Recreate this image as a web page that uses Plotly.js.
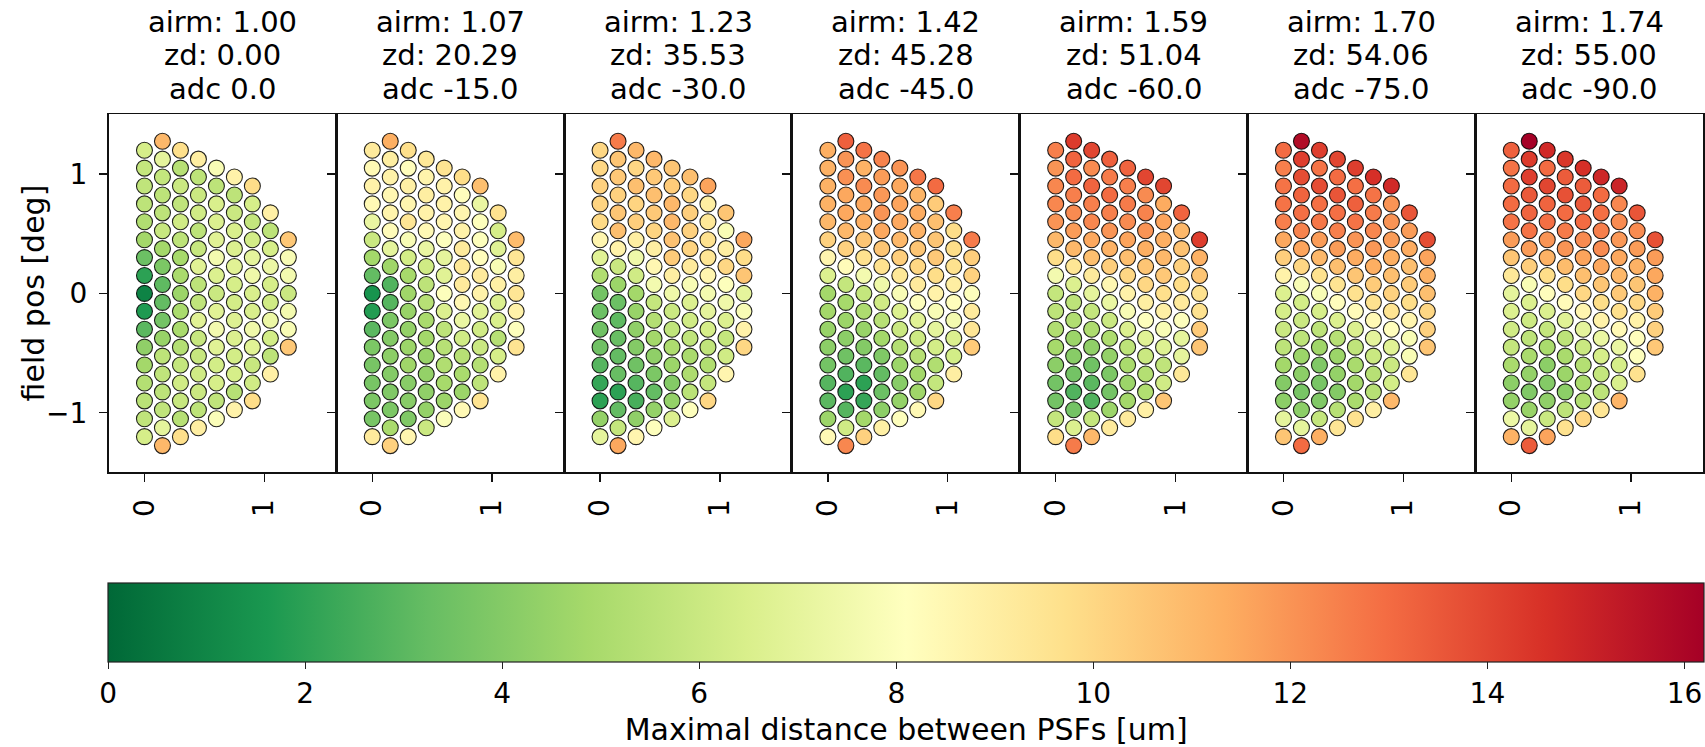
<!DOCTYPE html>
<html>
<head>
<meta charset="utf-8">
<script src="https://cdn.plot.ly/plotly-3.0.1.min.js"></script>
<style>
html,body{margin:0;padding:0;background:#ffffff;}
#chart{width:1705px;height:747px;}
</style>
</head>
<body>
<div id="chart"></div>
<script>
// ---------------- data ----------------
const airmass = ["1.00", "1.07", "1.23", "1.42", "1.59", "1.70", "1.74"];
const zenithDist = ["0.00", "20.29", "35.53", "45.28", "51.04", "54.06", "55.00"];
const adcAngle = ["0.0", "-15.0", "-30.0", "-45.0", "-60.0", "-75.0", "-90.0"];

// field grid: column x position [deg], top y of the column [deg], number of fibres, row step [deg]
const columnX = [0.0, 0.15, 0.30, 0.45, 0.60, 0.75, 0.90, 1.05, 1.20];
const columnTopY = [1.2, 1.275, 1.2, 1.125, 1.05, 0.975, 0.9, 0.675, 0.45];
const columnCount = [17, 18, 17, 16, 15, 14, 13, 10, 7];
const rowStep = 0.15;

// maximal distance between PSFs [um], per column, top to bottom
const maxDistAdc0 = [
  [6.4,5.8,5.7,5.6,5.2,4.8,3.4,2.0,0.9,1.7,3.0,4.3,4.8,5.3,5.5,5.7,6.4],
  [11.0,7.0,5.8,5.6,5.6,5.9,4.8,3.8,3.1,3.2,3.6,4.5,5.6,5.7,5.6,5.7,7.0,11.0],
  [9.7,5.4,6.0,5.7,6.2,5.6,4.9,5.0,4.6,5.0,5.0,5.3,5.8,6.2,5.9,5.4,9.7],
  [9.0,5.6,6.0,6.2,5.6,5.9,6.8,5.6,5.7,6.8,5.9,5.9,6.2,6.0,5.6,9.0],
  [7.8,5.6,6.5,6.6,6.8,7.6,6.6,6.0,6.8,7.6,6.8,6.3,6.4,5.7,7.9],
  [8.8,5.6,6.0,6.5,6.6,6.8,6.4,6.3,6.7,6.6,6.3,6.4,5.4,8.8],
  [9.8,6.4,5.8,6.3,7.0,7.4,6.5,6.5,7.4,6.8,5.9,6.2,9.8],
  [8.9,5.6,6.4,7.3,6.4,6.2,7.3,6.3,5.6,8.9],
  [10.5,7.8,7.6,6.0,7.6,7.8,10.5]
];
const maxDistAdc15 = [
  [9.2,8.4,8.8,8.4,7.2,6.0,4.8,3.2,1.5,1.8,3.0,3.8,3.7,3.7,3.8,3.7,9.2],
  [11.3,9.0,8.8,8.5,8.7,8.3,7.0,4.7,2.8,2.9,3.8,4.0,4.2,4.0,3.9,3.8,5.0,10.2],
  [9.7,8.2,8.9,8.6,9.4,7.8,6.3,4.9,4.7,4.5,4.4,4.6,4.7,4.1,4.1,3.9,8.6],
  [9.3,8.7,9.0,8.8,8.4,7.2,6.2,5.6,5.4,5.0,4.8,4.5,4.4,4.3,4.4,6.0],
  [9.5,8.8,8.8,8.6,8.0,7.0,6.8,8.0,6.6,5.6,5.4,5.2,4.9,4.6,7.9],
  [9.8,8.2,8.6,8.8,9.2,9.3,9.2,8.5,7.2,6.2,5.4,5.0,4.6,8.4],
  [10.8,7.2,8.0,8.0,8.2,9.2,8.8,6.8,6.2,6.0,5.3,5.6,9.5],
  [9.6,6.4,6.8,7.8,8.9,6.6,6.5,5.4,6.4,8.8],
  [10.9,9.4,9.0,9.4,8.8,8.0,9.5]
];
const maxDistAdc30 = [
  [10.0,10.0,10.2,10.1,9.9,8.6,6.8,5.2,3.6,3.4,3.5,3.5,2.9,2.2,2.0,4.4,7.0],
  [12.6,10.6,10.5,10.2,10.6,10.8,8.8,6.0,4.6,3.4,3.1,3.3,3.2,3.3,2.0,3.2,5.8,11.5],
  [11.0,10.0,10.8,10.1,10.3,9.0,7.4,6.2,4.8,4.5,4.3,4.0,3.5,2.9,2.6,4.3,8.6],
  [11.0,10.5,10.8,10.5,10.1,9.0,8.5,7.6,5.8,5.3,4.8,4.3,3.8,3.2,4.4,8.0],
  [10.6,10.4,11.0,11.0,10.7,10.4,9.0,7.4,6.0,5.7,5.1,4.6,4.0,4.4,6.6],
  [10.8,10.0,10.3,10.2,10.1,9.2,7.8,6.6,6.2,5.7,5.0,5.1,5.5,8.0],
  [11.6,9.0,9.3,9.6,9.4,8.6,7.6,7.0,6.4,5.7,5.2,5.8,10.0],
  [10.6,7.8,9.0,10.0,8.0,7.4,6.6,5.8,6.2,8.6],
  [11.5,9.8,10.6,7.0,7.8,8.8,10.0]
];
const maxDistAdc45 = [
  [11.3,11.2,11.2,11.2,11.0,10.2,8.6,6.6,4.8,4.8,4.5,4.2,3.6,2.9,3.0,4.6,8.4],
  [13.3,12.0,12.1,11.5,11.5,11.0,10.2,8.3,5.8,4.9,4.6,4.2,3.5,2.8,2.0,2.9,6.2,12.3],
  [12.8,11.2,12.2,11.5,11.3,10.6,9.6,7.6,5.8,5.1,4.5,4.0,3.0,2.0,2.2,4.8,10.2],
  [12.4,11.8,11.9,12.0,11.5,10.6,9.6,7.4,6.2,5.4,4.8,3.9,3.2,3.4,4.2,8.9],
  [12.0,11.5,11.6,11.5,11.0,10.3,9.3,7.8,6.6,6.0,5.3,4.6,4.1,4.4,8.0],
  [12.7,11.1,11.4,11.2,10.6,10.0,9.2,8.0,6.8,6.1,5.4,4.8,4.7,8.4],
  [13.0,10.4,10.8,10.6,10.5,9.8,8.8,7.8,7.0,6.3,5.2,5.8,10.0],
  [12.5,9.8,9.8,9.6,9.0,8.2,7.6,6.6,6.3,9.0],
  [12.6,10.3,10.2,8.0,9.2,9.4,10.4]
];
const maxDistAdc60 = [
  [12.5,12.0,12.3,12.3,12.0,11.0,9.8,7.6,5.8,5.6,5.2,4.9,4.2,3.6,3.6,5.8,9.8],
  [14.3,13.2,13.0,12.5,12.2,11.8,11.0,9.4,6.6,5.6,5.2,4.6,4.1,3.6,2.8,3.6,6.6,12.6],
  [14.0,12.2,13.2,12.5,12.3,11.5,10.8,9.2,7.0,5.8,5.1,4.3,3.5,3.0,2.8,5.8,11.0],
  [13.3,12.6,13.0,12.5,12.0,11.2,10.3,8.5,7.2,6.0,5.1,4.4,3.8,3.6,4.6,9.2],
  [13.2,12.5,12.6,12.2,11.6,10.8,10.0,8.8,7.8,6.6,5.6,5.0,4.6,4.8,9.2],
  [14.0,12.2,12.4,12.0,11.3,10.6,10.0,9.0,8.0,6.8,6.0,5.3,5.2,8.9],
  [14.0,11.4,11.6,11.3,11.0,10.5,9.7,8.9,7.8,6.7,5.7,6.2,10.6],
  [13.2,11.0,10.7,10.2,9.8,9.2,8.0,7.0,7.0,9.3],
  [14.2,11.2,10.6,9.6,9.6,10.4,10.6]
];
const maxDistAdc75 = [
  [13.0,12.5,12.8,12.8,12.5,11.5,10.3,8.8,6.6,6.4,6.0,5.6,4.8,4.0,4.2,7.0,10.6],
  [15.8,14.2,13.8,13.2,12.9,12.4,11.6,10.0,7.8,6.3,6.0,5.6,4.6,4.2,3.7,4.2,7.0,13.0],
  [14.2,12.8,13.8,12.9,12.7,11.8,11.0,9.6,7.8,6.4,5.6,4.7,3.9,3.7,3.9,5.8,11.3],
  [14.0,13.0,13.6,12.9,12.5,11.8,10.8,9.5,8.2,6.6,5.4,4.6,4.4,4.0,5.4,9.4],
  [14.2,12.9,13.3,12.8,12.0,11.4,10.6,9.6,8.3,6.6,5.7,5.0,4.8,5.0,9.6],
  [14.6,12.8,12.6,12.3,11.9,11.3,10.4,9.6,8.4,7.0,6.0,5.4,5.4,9.0],
  [14.8,12.0,12.0,11.8,11.3,10.8,10.2,9.5,8.2,6.8,6.0,6.3,11.0],
  [13.6,11.8,11.4,10.8,10.4,9.8,8.6,7.8,7.8,9.4],
  [13.8,11.6,11.2,10.8,10.0,10.2,10.6]
];
const maxDistAdc90 = [
  [13.3,12.8,13.0,13.0,12.8,11.8,10.6,9.3,7.0,6.6,6.2,5.8,5.0,4.2,4.4,7.3,11.2],
  [16.2,14.3,14.2,13.5,13.2,12.8,11.8,10.3,7.8,6.6,6.1,5.6,5.0,4.4,3.9,4.5,7.0,13.4],
  [14.8,13.0,14.0,13.2,12.9,12.0,11.2,9.8,8.2,6.6,5.8,5.0,4.2,4.0,4.3,6.0,11.6],
  [14.4,13.4,13.7,13.0,12.6,12.0,10.9,9.8,8.3,6.8,5.6,5.0,4.6,4.2,5.6,9.6],
  [14.6,13.4,13.5,13.0,12.2,11.6,10.8,10.0,8.6,7.0,6.0,5.3,5.0,5.2,10.0],
  [14.9,13.0,12.9,12.5,12.2,11.5,10.6,9.8,8.8,7.2,6.4,5.8,5.6,9.4],
  [15.0,12.3,12.2,11.9,11.5,11.0,10.5,9.7,8.4,7.2,6.4,6.5,11.1],
  [13.6,12.2,11.8,11.2,10.6,10.0,8.8,8.2,8.0,9.6],
  [13.7,11.8,11.5,11.2,10.4,10.2,10.5]
];
const panelValues = [maxDistAdc0, maxDistAdc15, maxDistAdc30, maxDistAdc45, maxDistAdc60, maxDistAdc75, maxDistAdc90];

const xTicks = [0, 1];
const yTicks = [-1, 0, 1];
const colorbarTicks = [0, 2, 4, 6, 8, 10, 12, 14, 16];
const colorMin = 0, colorMax = 16.2;

// ---------------- styling / layout constants ----------------
const W = 1705, H = 747;
const panelLeft = 108.5, panelW = 227.8, panelTop = 115, panelBottom = 475;
const cbLeft = 108.3, cbRight = 1704, cbTop = 586, cbBottom = 665;
const titleLineCenters = [22, 55.5, 89];
const FONT = "DejaVu Sans, Arial, sans-serif";

// RdYlGn reversed (matplotlib RdYlGn_r)
const rdylgn = ["#006837","#1a9850","#66bd63","#a6d96a","#d9ef8b","#ffffbf","#fee08b","#fdae61","#f46d43","#d73027","#a50026"];
const colorscale = rdylgn.map((c, i) => [i / (rdylgn.length - 1), c]);

// field positions of the fibres
const fieldX = [], fieldY = [];
columnX.forEach((cx, c) => {
  for (let r = 0; r < columnCount[c]; r++) {
    fieldX.push(cx);
    fieldY.push(+(columnTopY[c] - r * rowStep).toFixed(4));
  }
});

const traces = [];
const layout = {
  width: W, height: H,
  margin: {l: 0, r: 0, t: 0, b: 0, pad: 0},
  paper_bgcolor: "#ffffff", plot_bgcolor: "#ffffff",
  font: {family: FONT, size: 28, color: "#000000"},
  showlegend: false,
  annotations: []
};

panelValues.forEach((vals, p) => {
  const sfx = p === 0 ? "" : String(p + 1);
  const tr = {
    type: "scatter", mode: "markers",
    x: fieldX, y: fieldY,
    xaxis: "x" + sfx, yaxis: "y" + sfx,
    marker: {
      size: 16,
      color: vals.flat(),
      colorscale: colorscale,
      cmin: colorMin, cmax: colorMax,
      line: {color: "rgba(0,0,0,0.85)", width: 1.1},
      showscale: p === 0
    },
    hoverinfo: "skip"
  };
  if (p === 0) {
    tr.marker.colorbar = {
      orientation: "h",
      x: ((cbLeft + cbRight) / 2) / W, xanchor: "center",
      y: (H - cbTop) / H, yanchor: "top",
      len: (cbRight - cbLeft) / W, lenmode: "fraction",
      thickness: cbBottom - cbTop, thicknessmode: "pixels",
      xpad: 0, ypad: 0,
      outlinecolor: "#222222", outlinewidth: 1.2,
      ticks: "outside", ticklen: 7, tickwidth: 1.2, tickcolor: "#222222",
      tickmode: "array", tickvals: colorbarTicks, ticktext: colorbarTicks.map(String),
      tickfont: {family: FONT, size: 28, color: "#000000"},
      title: {text: "Maximal distance between PSFs [um]", side: "bottom", font: {family: FONT, size: 30, color: "#000000"}}
    };
  }
  traces.push(tr);

  const x0 = (panelLeft + p * panelW) / W, x1 = (panelLeft + (p + 1) * panelW) / W;
  layout["xaxis" + sfx] = {
    domain: [x0, x1], range: [-0.3, 1.6], anchor: "y" + sfx,
    showgrid: false, zeroline: false,
    showline: true, mirror: true, linecolor: "#111111", linewidth: 1.5,
    ticks: "outside", ticklen: 8, tickwidth: 1.4, tickcolor: "#111111",
    tickmode: "array", tickvals: xTicks, ticktext: xTicks.map(String),
    tickangle: -90, ticklabelstandoff: 6,
    tickfont: {family: FONT, size: 28, color: "#000000"},
    fixedrange: true
  };
  layout["yaxis" + sfx] = {
    domain: [(H - panelBottom) / H, (H - panelTop) / H], range: [-1.5, 1.5], anchor: "x" + sfx,
    showgrid: false, zeroline: false,
    showline: true, mirror: true, linecolor: "#111111", linewidth: 1.5,
    ticks: "outside", ticklen: 8, tickwidth: 1.4, tickcolor: "#111111",
    tickmode: "array", tickvals: yTicks,
    showticklabels: p === 0, ticklabelstandoff: 6,
    tickfont: {family: FONT, size: 28, color: "#000000"},
    fixedrange: true
  };
  const titleLines = ["airm: " + airmass[p], "zd: " + zenithDist[p], "adc " + adcAngle[p]];
  titleLines.forEach((txt, k) => {
    layout.annotations.push({
      xref: "paper", yref: "paper",
      x: (x0 + x1) / 2, y: (H - titleLineCenters[k]) / H,
      xanchor: "center", yanchor: "middle",
      text: txt, showarrow: false, align: "center",
      font: {family: FONT, size: 29, color: "#000000"}
    });
  });
});

layout.annotations.push({
  xref: "paper", yref: "paper",
  x: 33 / W, y: (H - (panelTop + panelBottom) / 2) / H,
  xanchor: "center", yanchor: "middle",
  text: "field pos [deg]", textangle: -90, showarrow: false,
  font: {family: FONT, size: 30, color: "#000000"}
});

Plotly.newPlot("chart", traces, layout, {displayModeBar: false, staticPlot: true});
</script>
</body>
</html>
